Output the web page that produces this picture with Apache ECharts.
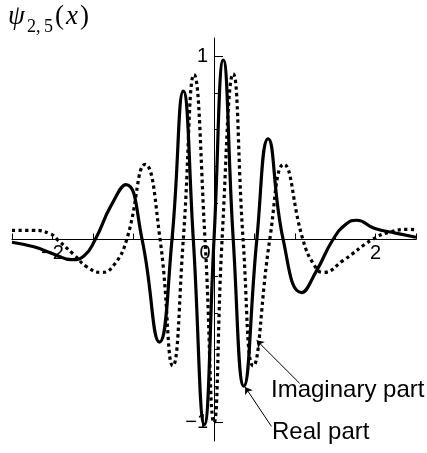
<!DOCTYPE html>
<html>
<head>
<meta charset="utf-8">
<script src="https://cdn.jsdelivr.net/npm/echarts@6/dist/echarts.min.js"></script>
<style>
html, body { margin: 0; padding: 0; background: #fff; }
#chart { width: 427px; height: 453px; }
</style>
</head>
<body>
<div id="chart"></div>
<script>
// values: [x, value]
const realPart = [
    [-2.5, -0.015], [-2.23, -0.04], [-1.98, -0.08], [-1.76, -0.11], [-1.61, -0.09],
    [-1.47, 0], [-1.28, 0.18], [-1.09, 0.30], [-0.89, 0], [-0.675, -0.56],
    [-0.52, 0], [-0.38, 0.81], [-0.256, 0], [-0.12, -1.01], [0.0, 0],
    [0.115, 0.98], [0.238, 0], [0.37, -0.80], [0.53, 0], [0.67, 0.55],
    [0.856, 0], [1.086, -0.29], [1.27, -0.17], [1.473, 0], [1.64, 0.086],
    [1.765, 0.105], [1.99, 0.06], [2.25, 0.035], [2.5, 0.012]
];
const imagPart = [
    [-2.5, 0.05], [-2.23, 0.05], [-2.02, 0.03], [-1.94, 0], [-1.74, -0.08],
    [-1.57, -0.15], [-1.39, -0.18], [-1.24, -0.14], [-1.08, 0], [-0.852, 0.41],
    [-0.667, 0], [-0.51, -0.69], [-0.38, 0], [-0.247, 0.90], [-0.111, 0],
    [0.0, -1.0], [0.1, 0], [0.238, 0.905], [0.36, 0], [0.485, -0.69],
    [0.69, 0], [0.864, 0.41], [1.1, 0], [1.24, -0.14], [1.35, -0.18],
    [1.6, -0.114], [1.96, 0], [2.17, 0.04], [2.42, 0.055], [2.5, 0.053]
];
const yTicks = [-1, -0.8, -0.6, -0.4, -0.2, 0.2, 0.4, 0.6, 0.8, 1];
const yLabels = [-1, 1];
const xLabels = { '-2': '\u22122', '0': '{z|0}', '2': '2' };

const chart = echarts.init(document.getElementById('chart'));

const labelFont = { color: '#000', fontFamily: 'Liberation Sans, Arial, sans-serif', fontSize: 20 };
// axes cross at the origin: grid is 404 x 403, so shift each axis by half of it
const gridBox = { left: 12, right: 11, top: 38, bottom: 12 };
const halfW = (427 - gridBox.left - gridBox.right) / 2;
const halfH = (453 - gridBox.top - gridBox.bottom) / 2;

const option = {
    animation: false,
    grid: Object.assign({ containLabel: false, outerBoundsMode: 'none' }, gridBox),
    xAxis: {
        type: 'value',
        min: -2.5,
        max: 2.5,
        interval: 0.5,
        offset: -halfH,
        axisLine: { onZero: false, lineStyle: { color: '#000', width: 1 } },
        axisTick: { inside: true, length: 6, lineStyle: { color: '#000' } },
        splitLine: { show: false },
        axisLabel: Object.assign({
            margin: 4,
            showMinLabel: true,
            showMaxLabel: true,
            formatter: v => xLabels[String(v)] || '',
            rich: { z: Object.assign({ padding: [0, 18, 0, 0] }, labelFont) }
        }, labelFont)
    },
    yAxis: [{
        type: 'value',
        position: 'left',
        min: -1.1,
        max: 1.1,
        offset: -halfW,
        axisLine: { onZero: false, lineStyle: { color: '#000', width: 1 } },
        axisTick: { inside: true, length: 4, customValues: yTicks, lineStyle: { color: '#000' } },
        splitLine: { show: false },
        axisLabel: Object.assign({
            margin: 6,
            customValues: yLabels,
            formatter: v => (v < 0 ? '\u2212' : '') + Math.abs(v)
        }, labelFont)
    }, {
        type: 'value',
        position: 'left',
        min: -1.1,
        max: 1.1,
        offset: -halfW,
        axisLine: { show: false, onZero: false },
        axisTick: { inside: true, length: 9, customValues: yLabels, lineStyle: { color: '#000' } },
        splitLine: { show: false },
        axisLabel: { show: false }
    }],
    series: [{
        name: 'Imaginary part',
        type: 'line',
        data: imagPart,
        smooth: 0.5,
        showSymbol: false,
        lineStyle: { color: '#000', width: 3.2, type: [3.3, 3.3] }
    }, {
        name: 'Real part',
        type: 'line',
        data: realPart,
        smooth: 0.5,
        showSymbol: false,
        lineStyle: { color: '#000', width: 3.2 },
        markLine: {
            silent: true,
            symbol: ['none', 'arrow'],
            symbolSize: 7,
            label: { show: false },
            lineStyle: { color: '#000', width: 1, type: 'solid' },
            data: [
                [{ coord: [1.06, -0.785] }, { coord: [0.527, -0.55] }],
                [{ coord: [0.71, -1.02] }, { coord: [0.385, -0.805] }]
            ]
        }
    }],
    graphic: [
        { type: 'text', left: 8, top: 3, style: { text: '\u03c8', font: 'italic 27px "Liberation Serif", serif', fill: '#000' } },
        { type: 'text', left: 27, top: 18, style: { text: '2,\u20095', font: '18px "Liberation Serif", serif', fill: '#000' } },
        { type: 'text', left: 55, top: 3, style: {
            text: '{n|(}{i|x}{n|)}',
            rich: {
                n: { font: '27px "Liberation Serif", serif', fill: '#000' },
                i: { font: 'italic 27px "Liberation Serif", serif', fill: '#000', padding: [0, 2] }
            }
        } },
        { type: 'text', left: 271, top: 378, style: { text: 'Imaginary part', font: '24px "Liberation Sans", Arial, sans-serif', fill: '#000' } },
        { type: 'text', left: 272, top: 420, style: { text: 'Real part', font: '24px "Liberation Sans", Arial, sans-serif', fill: '#000' } }
    ]
};

chart.setOption(option);
</script>
</body>
</html>
